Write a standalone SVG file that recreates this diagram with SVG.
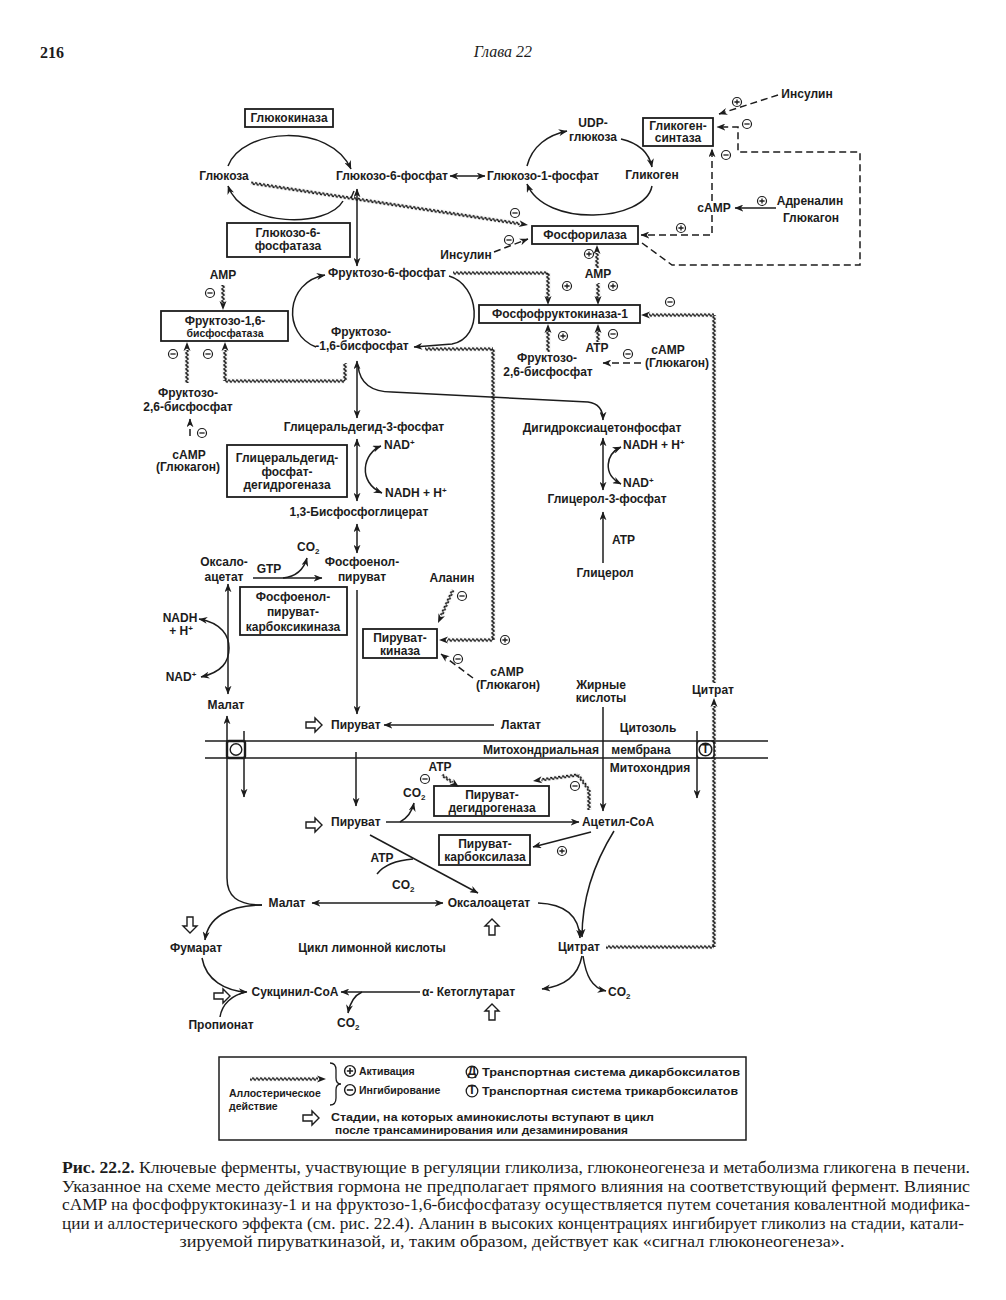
<svg xmlns="http://www.w3.org/2000/svg" xmlns:xlink="http://www.w3.org/1999/xlink" width="1006" height="1300" viewBox="0 0 1006 1300">
<style>
.t{font-family:"Liberation Sans",Arial,"DejaVu Sans",sans-serif;font-weight:bold;font-size:12px;fill:#1c1c1c}
.c{text-anchor:middle}
.s{font-size:10.5px}
.lg{font-size:10.5px}
.ln{fill:none;stroke:#1c1c1c;stroke-width:1.5}
.d{stroke-dasharray:7 4}
.bx{fill:none;stroke:#1c1c1c;stroke-width:1.8}
.wh{fill:url(#wh)}
.wv{fill:url(#wv)}
.cap{font-family:"Liberation Serif","Times New Roman",serif;font-size:16px;fill:#1c1c1c}
.hd{font-family:"Liberation Serif","Times New Roman",serif;font-size:16px;fill:#1c1c1c}
</style>
<defs>
<marker id="a" viewBox="0 0 10 8" refX="9.5" refY="4" markerWidth="9" markerHeight="7" markerUnits="userSpaceOnUse" orient="auto-start-reverse"><path d="M0 0 L10 4 L0 8 L3 4 Z" fill="#1c1c1c"/></marker>
<pattern id="wh" patternUnits="userSpaceOnUse" x="0" y="-2.5" width="4" height="5"><path d="M0 2.5 Q1 0.3 2 2.5 T4 2.5" fill="none" stroke="#111" stroke-width="1.5"/></pattern>
<pattern id="wv" patternUnits="userSpaceOnUse" x="-2.5" y="0" width="5" height="4"><path d="M2.5 0 Q0.3 1 2.5 2 T2.5 4" fill="none" stroke="#111" stroke-width="1.5"/></pattern>
<path id="hd" d="M0 0 L-9 -3.5 L-6.5 0 L-9 3.5 Z" fill="#1c1c1c"/>
<g id="plus"><circle r="4.5" fill="#fff" stroke="#1c1c1c" stroke-width="1.2"/><path d="M-2.6 0H2.6M0 -2.6V2.6" stroke="#1c1c1c" stroke-width="1.3"/></g>
<g id="minus"><circle r="4.5" fill="#fff" stroke="#1c1c1c" stroke-width="1.2"/><path d="M-2.6 0H2.6" stroke="#1c1c1c" stroke-width="1.3"/></g>
<path id="oa" d="M-8 -3 H1 V-7 L8 0 L1 7 V3 H-8 Z" fill="#fff" stroke="#1c1c1c" stroke-width="1.4" stroke-linejoin="miter"/>
</defs>
<rect width="1006" height="1300" fill="#fff"/>

<g id="header">
<text class="hd" x="40" y="58" font-weight="bold">216</text>
<text class="hd" x="503" y="57" text-anchor="middle" font-style="italic">Глава 22</text>
</g>

<g id="connectors">
<g class="ln" marker-end="url(#a)">
<path d="M228 166 C 242 128, 330 122, 351 169"/>
<path d="M343 201 C 328 228, 243 228, 228 186"/>
<path d="M527 166 C 532 146, 548 135, 567 131"/>
<path d="M621 139 C 638 143, 649 152, 652 167"/>
<path d="M652 186 C 645 222, 545 228, 527 184"/>
<path d="M776 208 H735"/>
<path d="M316 347 C 282 334, 285 282, 325 275"/>
<path d="M449 276 C 480 285, 484 338, 452 344 L 414 347"/>
<path d="M358 366 Q361 392 392 392 L 588 402 Q603 404 603 420"/>
<path d="M603 563 V512"/>
<path d="M253 578 H322"/>
<path d="M283 578 Q302 576 307 558"/>
<path d="M357 590 V714"/>
<path d="M494 725 H384"/>
<path d="M262 905 C 237 905, 227 896, 227 878 V716"/>
<path d="M244 731 V797"/>
<path d="M356 752 V806"/>
<path d="M386 822 H579"/>
<path d="M400 822 Q411 816 414 803"/>
<path d="M603 707 V811"/>
<path d="M697 731 V798"/>
<path d="M591 832 L533 847"/>
<path d="M370 835 L478 893"/>
<path d="M538 903 C 565 904, 579 916, 580 938"/>
<path d="M614 831 C 596 860, 582 895, 582 937"/>
<path d="M262 905 C 228 905, 208 918, 205 940"/>
<path d="M202 958 C 206 980, 225 991, 247 992"/>
<path d="M420 992 H341"/>
<path d="M362 992 Q351 997 348 1013"/>
<path d="M582 956 C 578 976, 565 986, 542 989"/>
<path d="M583 956 C 586 976, 592 988, 606 991"/>
</g>
<g class="ln" marker-start="url(#a)" marker-end="url(#a)">
<path d="M450 176 H485"/>
<path d="M357 189 V266"/>
<path d="M357 361 V418"/>
<path d="M603 438 V490"/>
<path d="M621 447 C 606 454, 602 474, 621 484"/>
<path d="M357 439 V501"/>
<path d="M381 446 C 363 453, 357 482, 382 493"/>
<path d="M357 524 V553"/>
<path d="M228 584 V694"/>
<path d="M199 619 C 222 623, 229 636, 229 648 C 229 662, 222 672, 201 677"/>
<path d="M312 903 H443"/>
</g>
<g class="ln">
<path d="M351 198 L354 191"/>
<path d="M377 874 Q387 861 413 859"/>
<path d="M220 1017 C 222 1004, 232 995, 246 992"/>
</g>
<g class="ln d" marker-end="url(#a)">
<path d="M778 95 L719 114"/>
<path d="M642 243 L672 265 H860 V152 H738 V127 H717"/>
<path d="M712 201 V149"/>
<path d="M712 215 V235 H641"/>
<path d="M494 252 L528 239"/>
<path d="M641 363 H603"/>
<path d="M190 436 V419"/>
<path d="M473 678 L441 654"/>
</g>
<g id="wavy">
<rect class="wh" x="0" y="-2.5" width="272" height="5" transform="translate(251 183) rotate(8.62)"/>
<use href="#hd" transform="translate(528 225) rotate(8.62)"/>
<rect class="wv" x="-2.5" y="253" width="5" height="15" transform="translate(597 0)"/>
<use href="#hd" transform="translate(597 245) rotate(-90)"/>
<rect class="wv" x="-2.5" y="283" width="5" height="15" transform="translate(598 0)"/>
<use href="#hd" transform="translate(598 305) rotate(90)"/>
<rect class="wh" x="453" y="-2.5" width="95" height="5" transform="translate(0 273)"/>
<rect class="wv" x="-2.5" y="273" width="5" height="25" transform="translate(548 0)"/>
<use href="#hd" transform="translate(548 305) rotate(90)"/>
<rect class="wv" x="-2.5" y="331" width="5" height="21" transform="translate(548 0)"/>
<use href="#hd" transform="translate(548 324) rotate(-90)"/>
<rect class="wv" x="-2.5" y="331" width="5" height="11" transform="translate(598 0)"/>
<use href="#hd" transform="translate(598 324) rotate(-90)"/>
<rect class="wv" x="-2.5" y="315" width="5" height="368" transform="translate(714 0)"/>
<rect class="wh" x="649" y="-2.5" width="65" height="5" transform="translate(0 315)"/>
<use href="#hd" transform="translate(641 315) rotate(180)"/>
<rect class="wh" x="425" y="-2.5" width="68" height="5" transform="translate(0 349)"/>
<rect class="wv" x="-2.5" y="349" width="5" height="291" transform="translate(493 0)"/>
<rect class="wh" x="447" y="-2.5" width="46" height="5" transform="translate(0 640)"/>
<use href="#hd" transform="translate(439 640) rotate(180)"/>
<rect class="wv" x="-2.5" y="363" width="5" height="18" transform="translate(345 0)"/>
<rect class="wh" x="225" y="-2.5" width="120" height="5" transform="translate(0 381)"/>
<rect class="wv" x="-2.5" y="350" width="5" height="31" transform="translate(225 0)"/>
<use href="#hd" transform="translate(225 342) rotate(-90)"/>
<rect class="wv" x="-2.5" y="285" width="5" height="18" transform="translate(223 0)"/>
<use href="#hd" transform="translate(223 310) rotate(90)"/>
<rect class="wv" x="-2.5" y="350" width="5" height="33" transform="translate(187 0)"/>
<use href="#hd" transform="translate(187 342) rotate(-90)"/>
<rect class="wh" x="0" y="-2.5" width="28" height="5" transform="translate(453 590) rotate(114.4)"/>
<use href="#hd" transform="translate(438 623) rotate(114.4)"/>
<rect class="wh" x="606" y="-2.5" width="108" height="5" transform="translate(0 947)"/>
<rect class="wv" x="-2.5" y="706" width="5" height="241" transform="translate(714 0)"/>
<use href="#hd" transform="translate(714 698) rotate(-90)"/>
<rect class="wh" x="0" y="-2.5" width="13" height="5" transform="translate(442 775) rotate(35.2)"/>
<use href="#hd" transform="translate(459 787) rotate(35.2)"/>
<rect class="wv" x="-2.5" y="790" width="5" height="20" transform="translate(589 0)"/>
<rect class="wh" x="0" y="-2.5" width="18.6" height="5" transform="translate(589 790) rotate(-126.3)"/>
<rect class="wh" x="0" y="-2.5" width="37" height="5" transform="translate(578 775) rotate(172.4)"/>
<use href="#hd" transform="translate(533 781) rotate(172.4)"/>
</g>
</g>

<g id="signs">
<use href="#plus" x="737" y="102"/>
<use href="#plus" x="762" y="201"/>
<use href="#plus" x="681" y="228"/>
<use href="#plus" x="589" y="254"/>
<use href="#plus" x="567" y="286"/>
<use href="#plus" x="613" y="286"/>
<use href="#plus" x="563" y="336"/>
<use href="#plus" x="505" y="640"/>
<use href="#plus" x="562" y="851"/>
<use href="#minus" x="747" y="124"/>
<use href="#minus" x="726" y="155"/>
<use href="#minus" x="515" y="213"/>
<use href="#minus" x="509" y="240"/>
<use href="#minus" x="670" y="302"/>
<use href="#minus" x="613" y="334"/>
<use href="#minus" x="628" y="354"/>
<use href="#minus" x="210" y="293"/>
<use href="#minus" x="173" y="354"/>
<use href="#minus" x="208" y="354"/>
<use href="#minus" x="202" y="433"/>
<use href="#minus" x="462" y="596"/>
<use href="#minus" x="458" y="659"/>
<use href="#minus" x="425" y="779"/>
<use href="#minus" x="575" y="786"/>
</g>

<g id="membrane">
<path d="M205 741 H768 M205 758 H768" stroke="#1c1c1c" stroke-width="1.6" fill="none"/>
<g id="n-dicarb-transporter"><rect x="227" y="741" width="18" height="17" rx="2" fill="#fff" stroke="#1c1c1c" stroke-width="2.4"/><circle cx="236" cy="749.5" r="5.8" fill="#fff" stroke="#1c1c1c" stroke-width="1.4"/></g>
<g id="n-tricarb-transporter"><rect x="697" y="741" width="17" height="17" rx="3" fill="#fff" stroke="#1c1c1c" stroke-width="1.5"/><circle cx="705.5" cy="749.5" r="6.3" fill="#fff" stroke="#1c1c1c" stroke-width="1.6"/><text class="t c" x="705.5" y="752.5" font-size="7.5">T</text></g>
<text class="t c" x="541" y="754">Митохондриальная</text>
<text class="t c" x="641" y="754">мембрана</text>
</g>

<g id="open-arrows">
<use href="#oa" transform="translate(314 725)"/>
<use href="#oa" transform="translate(314 825)"/>
<use href="#oa" transform="translate(190 925) rotate(90)"/>
<use href="#oa" transform="translate(492 927) rotate(-90)"/>
<use href="#oa" transform="translate(222 996)"/>
<use href="#oa" transform="translate(492 1012) rotate(-90)"/>
</g>

<g id="n-glucokinase"><rect class="bx" x="245" y="109" width="88" height="18"/><text class="t c" x="289" y="122">Глюкокиназа</text></g>
<g id="n-glucose"><text class="t c" x="224" y="180">Глюкоза</text></g>
<g id="n-g6p"><text class="t c" x="392" y="180">Глюкозо-6-фосфат</text></g>
<g id="n-g1p"><text class="t c" x="543" y="180">Глюкозо-1-фосфат</text></g>
<g id="n-udpg"><text class="t c" x="593" y="127">UDP-</text><text class="t c" x="593" y="141">глюкоза</text></g>
<g id="n-glycogen"><text class="t c" x="652" y="179">Гликоген</text></g>
<g id="n-gs"><rect class="bx" x="643" y="118" width="70" height="28"/><text class="t c" x="678" y="130">Гликоген-</text><text class="t c" x="678" y="142">синтаза</text></g>
<g id="n-insulin1"><text class="t c" x="807" y="98">Инсулин</text></g>
<g id="n-camp1"><text class="t c" x="714" y="212">cAMP</text></g>
<g id="n-adrenalin"><text class="t c" x="810" y="205">Адреналин</text><text class="t c" x="811" y="222">Глюкагон</text></g>
<g id="n-phosphorylase"><rect class="bx" x="532" y="226" width="106" height="18"/><text class="t c" x="585" y="239">Фосфорилаза</text></g>
<g id="n-insulin2"><text class="t c" x="466" y="259">Инсулин</text></g>
<g id="n-g6pase"><rect class="bx" x="227" y="223" width="123" height="34"/><text class="t c" x="288" y="237">Глюкозо-6-</text><text class="t c" x="288" y="250">фосфатаза</text></g>
<g id="n-amp1"><text class="t c" x="598" y="278">AMP</text></g>
<g id="n-f6p"><text class="t c" x="387" y="277">Фруктозо-6-фосфат</text></g>
<g id="n-pfk1"><rect class="bx" x="479" y="305" width="161" height="18"/><text class="t c" x="560" y="318">Фосфофруктокиназа-1</text></g>
<g id="n-f26bp1"><text class="t c" x="547" y="362">Фруктозо-</text><text class="t c" x="548" y="376">2,6-бисфосфат</text></g>
<g id="n-atp1"><text class="t c" x="597" y="352">ATP</text></g>
<g id="n-camp2"><text class="t c" x="668" y="354">cAMP</text><text class="t c" x="677" y="367">(Глюкагон)</text></g>
<g id="n-amp2"><text class="t c" x="223" y="279">AMP</text></g>
<g id="n-fbpase"><rect class="bx" x="161" y="311" width="127" height="30"/><text class="t c" x="225" y="325">Фруктозо-1,6-</text><text class="t c s" x="225" y="337">бисфосфатаза</text></g>
<g id="n-f16bp"><text class="t c" x="361" y="336">Фруктозо-</text><text class="t c" x="362" y="350">-1,6-бисфосфат</text></g>
<g id="n-f26bp2"><text class="t c" x="188" y="397">Фруктозо-</text><text class="t c" x="188" y="411">2,6-бисфосфат</text></g>
<g id="n-camp3"><text class="t c" x="189" y="459">cAMP</text><text class="t c" x="188" y="471">(Глюкагон)</text></g>
<g id="n-gap"><text class="t c" x="364" y="431">Глицеральдегид-3-фосфат</text></g>
<g id="n-dhap"><text class="t c" x="602" y="432">Дигидроксиацетонфосфат</text></g>
<g id="n-nadh1"><text class="t" x="623" y="449">NADH + H<tspan dy="-4" font-size="8">+</tspan></text></g>
<g id="n-nad1"><text class="t" x="623" y="487">NAD<tspan dy="-4" font-size="8">+</tspan></text></g>
<g id="n-g3p"><text class="t c" x="607" y="503">Глицерол-3-фосфат</text></g>
<g id="n-atp2"><text class="t" x="612" y="544">ATP</text></g>
<g id="n-glycerol"><text class="t c" x="605" y="577">Глицерол</text></g>
<g id="n-gapdh"><rect class="bx" x="227" y="445" width="120" height="52"/><text class="t c" x="287" y="462">Глицеральдегид-</text><text class="t c" x="287" y="476">фосфат-</text><text class="t c" x="287" y="489">дегидрогеназа</text></g>
<g id="n-nad2"><text class="t" x="384" y="449">NAD<tspan dy="-4" font-size="8">+</tspan></text></g>
<g id="n-nadh2"><text class="t" x="385" y="497">NADH + H<tspan dy="-4" font-size="8">+</tspan></text></g>
<g id="n-bpg"><text class="t c" x="359" y="516">1,3-Бисфосфоглицерат</text></g>
<g id="n-co2a"><text class="t" x="297" y="551">CO<tspan dy="3" font-size="8">2</tspan></text></g>
<g id="n-pep"><text class="t c" x="362" y="566">Фосфоенол-</text><text class="t c" x="362" y="581">пируват</text></g>
<g id="n-oaa1"><text class="t c" x="224" y="566">Оксало-</text><text class="t c" x="224" y="581">ацетат</text></g>
<g id="n-gtp"><text class="t c" x="269" y="573">GTP</text></g>
<g id="n-pepck"><rect class="bx" x="240" y="587" width="107" height="48"/><text class="t c" x="293" y="601">Фосфоенол-</text><text class="t c" x="293" y="616">пируват-</text><text class="t c" x="293" y="631">карбоксикиназа</text></g>
<g id="n-alanine"><text class="t c" x="452" y="582">Аланин</text></g>
<g id="n-nadh3"><text class="t c" x="180" y="622">NADH</text><text class="t c" x="181" y="635">+ H<tspan dy="-4" font-size="8">+</tspan></text></g>
<g id="n-nad3"><text class="t c" x="181" y="681">NAD<tspan dy="-4" font-size="8">+</tspan></text></g>
<g id="n-pk"><rect class="bx" x="363" y="629" width="74" height="29"/><text class="t c" x="400" y="642">Пируват-</text><text class="t c" x="400" y="655">киназа</text></g>
<g id="n-camp4"><text class="t c" x="507" y="676">cAMP</text><text class="t c" x="508" y="689">(Глюкагон)</text></g>
<g id="n-malate1"><text class="t c" x="226" y="709">Малат</text></g>
<g id="n-fa"><text class="t c" x="601" y="689">Жирные</text><text class="t c" x="601" y="702">кислоты</text></g>
<g id="n-citrate1"><text class="t c" x="713" y="694">Цитрат</text></g>
<g id="n-pyr1"><text class="t" x="331" y="729">Пируват</text></g>
<g id="n-lactate"><text class="t c" x="521" y="729">Лактат</text></g>
<g id="n-cytosol"><text class="t c" x="648" y="732">Цитозоль</text></g>
<g id="n-mito"><text class="t c" x="650" y="772">Митохондрия</text></g>
<g id="n-atp3"><text class="t c" x="440" y="771">ATP</text></g>
<g id="n-co2b"><text class="t" x="403" y="797">CO<tspan dy="3" font-size="8">2</tspan></text></g>
<g id="n-pdh"><rect class="bx" x="434" y="786" width="115" height="30"/><text class="t c" x="492" y="799">Пируват-</text><text class="t c" x="492" y="812">дегидрогеназа</text></g>
<g id="n-pyr2"><text class="t" x="331" y="826">Пируват</text></g>
<g id="n-acoa"><text class="t c" x="618" y="826">Ацетил-CoA</text></g>
<g id="n-pc"><rect class="bx" x="439" y="835" width="91" height="30"/><text class="t c" x="485" y="848">Пируват-</text><text class="t c" x="485" y="861">карбоксилаза</text></g>
<g id="n-atp4"><text class="t c" x="382" y="862">ATP</text></g>
<g id="n-co2c"><text class="t" x="392" y="889">CO<tspan dy="3" font-size="8">2</tspan></text></g>
<g id="n-malate2"><text class="t c" x="287" y="907">Малат</text></g>
<g id="n-oaa2"><text class="t c" x="489" y="907">Оксалоацетат</text></g>
<g id="n-fumarate"><text class="t c" x="196" y="952">Фумарат</text></g>
<g id="n-tca"><text class="t c" x="372" y="952">Цикл лимонной кислоты</text></g>
<g id="n-citrate2"><text class="t c" x="579" y="951">Цитрат</text></g>
<g id="n-succoa"><text class="t c" x="295" y="996">Сукцинил-CoA</text></g>
<g id="n-akg"><text class="t" x="422" y="996">α- Кетоглутарат</text></g>
<g id="n-co2d"><text class="t" x="608" y="996">CO<tspan dy="3" font-size="8">2</tspan></text></g>
<g id="n-co2e"><text class="t" x="337" y="1027">CO<tspan dy="3" font-size="8">2</tspan></text></g>
<g id="n-propionate"><text class="t c" x="221" y="1029">Пропионат</text></g>

<g id="legend">
<rect x="219" y="1057" width="527" height="83" fill="none" stroke="#1c1c1c" stroke-width="1.5"/>
<rect class="wh" x="250" y="-2.5" width="68" height="5" transform="translate(0 1079)"/>
<use href="#hd" transform="translate(326 1079)"/>
<text class="t lg" x="229" y="1097">Аллостерическое</text>
<text class="t lg" x="229" y="1110">действие</text>
<path d="M330 1063 Q336 1063 336 1070 V1078 Q336 1084 341 1084 Q336 1084 336 1090 V1098 Q336 1105 330 1105" fill="none" stroke="#1c1c1c" stroke-width="1.3"/>
<g transform="translate(350 1071) scale(1.2)"><use href="#plus"/></g>
<text class="t lg" x="359" y="1075">Активация</text>
<g transform="translate(350 1090) scale(1.2)"><use href="#minus"/></g>
<text class="t lg" x="359" y="1094">Ингибирование</text>
<circle cx="472" cy="1072" r="5.8" fill="#fff" stroke="#1c1c1c" stroke-width="1.3"/>
<text class="t c" x="472" y="1075" font-size="7.5">Д</text>
<text class="t lg" x="482" y="1076" textLength="258" lengthAdjust="spacingAndGlyphs">Транспортная система дикарбоксилатов</text>
<circle cx="472" cy="1091" r="5.8" fill="#fff" stroke="#1c1c1c" stroke-width="1.3"/>
<text class="t c" x="472" y="1094" font-size="7.5">Т</text>
<text class="t lg" x="482" y="1095" textLength="256" lengthAdjust="spacingAndGlyphs">Транспортная система трикарбоксилатов</text>
<use href="#oa" transform="translate(311 1118)"/>
<text class="t lg" x="331" y="1121" textLength="323" lengthAdjust="spacingAndGlyphs">Стадии, на которых аминокислоты вступают в цикл</text>
<text class="t lg" x="335" y="1134" textLength="293" lengthAdjust="spacingAndGlyphs">после трансаминирования или дезаминирования</text>
</g>

<g id="caption">
<text class="cap" x="62" y="1173" textLength="908" lengthAdjust="spacingAndGlyphs"><tspan font-weight="bold">Рис. 22.2.</tspan> Ключевые ферменты, участвующие в регуляции гликолиза, глюконеогенеза и метаболизма гликогена в печени.</text>
<text class="cap" x="62" y="1192" textLength="908" lengthAdjust="spacingAndGlyphs">Указанное на схеме место действия гормона не предполагает прямого влияния на соответствующий фермент. Влиянис</text>
<text class="cap" x="62" y="1210" textLength="908" lengthAdjust="spacingAndGlyphs">cAMP на фосфофруктокиназу-1 и на фруктозо-1,6-бисфосфатазу осуществляется путем сочетания ковалентной модифика-</text>
<text class="cap" x="62" y="1229" textLength="902" lengthAdjust="spacingAndGlyphs">ции и аллостерического эффекта (см. рис. 22.4). Аланин в высоких концентрациях ингибирует гликолиз на стадии, катали-</text>
<text class="cap" x="512" y="1247" text-anchor="middle" textLength="665" lengthAdjust="spacingAndGlyphs">зируемой пируваткиназой, и, таким образом, действует как «сигнал глюконеогенеза».</text>
</g>
</svg>
